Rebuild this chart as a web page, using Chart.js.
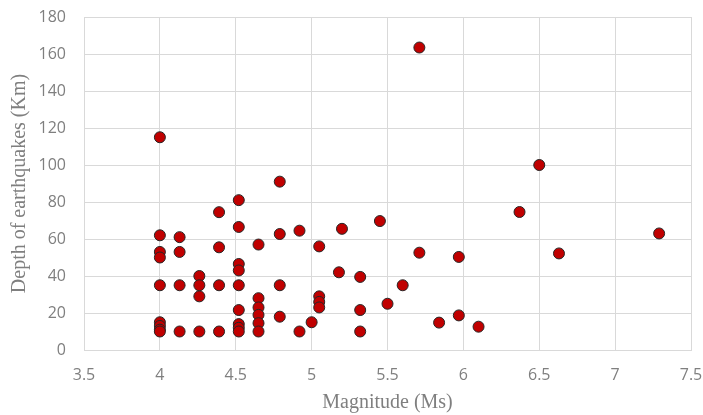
<!DOCTYPE html>
<html>
<head>
<meta charset="utf-8">
<script src="https://cdn.jsdelivr.net/npm/chart.js@4/dist/chart.umd.min.js"></script>
<style>
html,body{margin:0;padding:0;background:#fff;}
canvas{display:block;}
</style>
</head>
<body>
<canvas id="c" width="703" height="415"></canvas>
<script>
const magnitude = [
  4.0,4.0,4.0,4.0,4.0,4.0,4.0,4.0,4.0,
  4.13,4.13,4.13,4.13,
  4.26,4.26,4.26,4.26,
  4.39,4.39,4.39,4.39,
  4.52,4.52,4.52,4.52,4.52,4.52,4.52,4.52,4.52,
  4.65,4.65,4.65,4.65,4.65,4.65,
  4.79,4.79,4.79,4.79,
  4.92,4.92,
  5.0,
  5.05,5.05,5.05,5.05,
  5.18,5.2,
  5.32,5.32,5.32,
  5.45,5.5,5.6,
  5.71,5.71,
  5.84,
  5.97,5.97,
  6.1,6.37,6.5,6.63,7.29
];
const depth = [
  115,62,53,50,35,15,13,11,10,
  61,53,35,10,
  40,35,29,10,
  74.5,55.5,35,10,
  81,66.5,46.5,43,35,21.6,14,12,10,
  57,28,23,19,14.5,10,
  91,62.7,35,18,
  64.5,10,
  15,
  56,29,26,23,
  42,65.5,
  39.5,21.6,10,
  69.7,25,35,
  163.5,52.6,
  14.8,
  50.3,18.7,
  12.6,74.6,100,52.2,63
];
const xTitle = "Magnitude (Ms)";
const yTitle = "Depth of earthquakes (Km)";

const points = magnitude.map((m, i) => ({x: m, y: depth[i]}));
const gridColor = '#d9d9d9';
const tickColor = '#7f7f7f';

new Chart(document.getElementById('c'), {
  type: 'scatter',
  data: {
    datasets: [{
      data: points,
      backgroundColor: '#c00000',
      borderColor: '#262626',
      borderWidth: 1,
      pointRadius: 5.5,
      pointHoverRadius: 5.5
    }]
  },
  options: {
    responsive: false,
    animation: false,
    layout: {padding: {top: 17, right: 12, bottom: 0, left: 0}},
    plugins: {legend: {display: false}, tooltip: {enabled: false}},
    scales: {
      x: {
        type: 'linear',
        min: 3.5, max: 7.5,
        ticks: {stepSize: 0.5, color: tickColor, padding: 16,
          font: {family: '"Open Sans"', size: 16},
          callback: v => String(v)},
        grid: {color: gridColor, lineWidth: 1, drawTicks: false},
        border: {color: gridColor, width: 1},
        title: {display: true, text: xTitle, color: tickColor,
          font: {family: '"Liberation Serif"', size: 20},
          padding: {top: 0, bottom: 0}},
        afterFit: s => { s.height = 65; s.paddingLeft = 0; s.paddingRight = 0; }
      },
      y: {
        type: 'linear',
        min: 0, max: 180,
        ticks: {stepSize: 20, color: tickColor, padding: 18,
          font: {family: '"Open Sans"', size: 16}},
        grid: {color: gridColor, lineWidth: 1, drawTicks: false},
        border: {color: gridColor, width: 1},
        title: {display: true, text: yTitle, color: tickColor,
          font: {family: '"Liberation Serif"', size: 20},
          padding: {top: 8, bottom: 0}},
        afterFit: s => { s.width = 84; s.paddingTop = 0; s.paddingBottom = 0; }
      }
    }
  }
});
</script>
</body>
</html>
